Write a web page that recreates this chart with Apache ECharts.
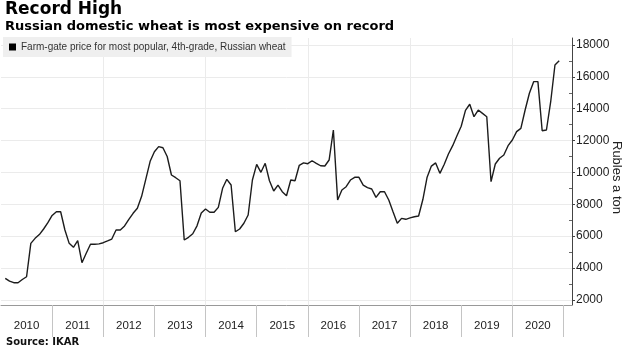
<!DOCTYPE html>
<html>
<head>
<meta charset="utf-8">
<script src="https://cdn.jsdelivr.net/npm/echarts@6/dist/echarts.min.js"></script>
<style>
  html, body { margin: 0; padding: 0; background: #fff; }
  #chart { width: 632px; height: 349px; }
</style>
</head>
<body>
<div id="chart"></div>
<script>
// Year labels along the bottom axis
const years = ['2010', '2011', '2012', '2013', '2014', '2015', '2016', '2017', '2018', '2019', '2020'];

// Monthly farm-gate price, rubles per ton, Jan 2010 .. Dec 2020
const prices = [
  null, 3355, 3180, 3080, 3080, 3280, 3455, 5550, 5865, 6100, 6450, 6850,
  7300, 7535, 7535, 6390, 5550, 5300, 5715, 4335, 4925, 5490, 5490, 5520,
  5590, 5700, 5820, 6390, 6390, 6640, 7050, 7435, 7750, 8500, 9600, 10700,
  11300, 11620, 11550, 11000, 9840, 9670, 9480, 5760, 5930, 6150, 6650, 7450,
  7705, 7500, 7500, 7810, 9005, 9570, 9210, 6280, 6450, 6810, 7330, 9525,
  10510, 10010, 10575, 9480, 8835, 9210, 8790, 8540, 9525, 9480, 10450, 10600,
  10550, 10735, 10575, 10420, 10405, 10780, 12665, 8270, 8900, 9105, 9525, 9695,
  9695, 9210, 9045, 8960, 8440, 8790, 8790, 8270, 7535, 6810, 7120, 7060,
  7150, 7220, 7265, 8300, 9700, 10400, 10600, 9945, 10500, 11160, 11680, 12300,
  12900, 13900, 14280, 13500, 13920, 13710, 13500, 9420, 10530, 10890, 11095, 11680,
  12035, 12560, 12770, 13920, 14970, 15700, 15700, 12620, 12665, 14440, 16745, 17015
];

// Value-axis tick labels and the minor ticks between them
const yTicks = [2000, 4000, 6000, 8000, 10000, 12000, 14000, 16000, 18000];
const yMinorTicks = [3000, 5000, 7000, 9000, 11000, 13000, 15000, 17000];

const seriesName = 'Farm-gate price for most popular, 4th-grade, Russian wheat';

// One category per month, plus a short run-out into 2021
const months = [];
years.forEach(y => {
  for (let m = 1; m <= 12; m++) months.push(y + '-' + String(m).padStart(2, '0'));
});
['2021-01', '2021-02', '2021-03'].forEach(m => months.push(m));

const labelFont = "'Liberation Sans', Arial, sans-serif";
const headFont = "'DejaVu Sans', sans-serif";

const chart = echarts.init(document.getElementById('chart'), null, { renderer: 'canvas' });

chart.setOption({
  animation: false,
  backgroundColor: '#fff',
  title: [
    {
      text: 'Record High', left: 5, top: 1, padding: 0,
      textStyle: { fontFamily: headFont, fontWeight: 'bold', fontSize: 17, color: '#000' }
    },
    {
      text: 'Russian domestic wheat is most expensive on record', left: 5, top: 20, padding: 0,
      textStyle: { fontFamily: headFont, fontWeight: 'bold', fontSize: 13, color: '#000' }
    },
    {
      text: 'Source: IKAR', left: 6, top: 337, padding: 0,
      textStyle: { fontFamily: headFont, fontWeight: 'bold', fontSize: 10, color: '#111' }
    }
  ],
  legend: {
    left: 3, top: 37,
    padding: [5, 6, 5, 6],
    backgroundColor: '#efefef',
    icon: 'rect', itemWidth: 7, itemHeight: 7,
    textStyle: { fontFamily: labelFont, fontSize: 10, color: '#333' },
    data: [seriesName]
  },
  grid: { left: 1, right: 60, top: 38, bottom: 44, containLabel: false, outerBoundsMode: 'none' },
  xAxis: {
    type: 'category',
    data: months,
    boundaryGap: false,
    axisLine: { show: true, lineStyle: { color: '#999', width: 1 } },
    axisTick: {
      show: true, length: 32,
      interval: (i) => i > 0 && i % 12 === 0,
      lineStyle: { color: '#c4c4c4' }
    },
    axisLabel: {
      interval: (i) => i % 12 === 6 && i < years.length * 12,
      formatter: (v) => v.slice(0, 4),
      margin: 15,
      fontFamily: labelFont, fontSize: 11.5, color: '#222'
    },
    splitLine: {
      show: true,
      interval: (i) => i > 0 && i % 24 === 0,
      lineStyle: { color: '#ebebeb' }
    }
  },
  yAxis: [
    {
      type: 'value', position: 'right',
      min: 1680, max: 18440,
      name: 'Rubles a ton', nameLocation: 'middle', nameRotate: -90, nameGap: 38,
      nameMoveOverlap: false,
      nameTextStyle: { fontFamily: labelFont, fontSize: 13, color: '#222', padding: [0, 0, 0, 12] },
      axisLine: { show: true, lineStyle: { color: '#444', width: 1 } },
      axisTick: { show: true, length: 3, customValues: yTicks, lineStyle: { color: '#444' } },
      axisLabel: {
        customValues: yTicks, margin: 4,
        formatter: (v) => String(v),
        fontFamily: labelFont, fontSize: 12, color: '#222'
      },
      splitLine: { show: true, lineStyle: { color: '#ebebeb' } }
    },
    {
      type: 'value', position: 'right',
      min: 1680, max: 18440,
      axisLine: { show: false },
      axisTick: { show: true, inside: true, length: 3, customValues: yMinorTicks, lineStyle: { color: '#666' } },
      axisLabel: { show: false },
      splitLine: { show: false }
    }
  ],
  series: [
    {
      name: seriesName,
      type: 'line',
      data: prices,
      yAxisIndex: 0,
      symbol: 'none',
      connectNulls: false,
      lineStyle: { color: '#1c1c1c', width: 1.4 },
      itemStyle: { color: '#000' }
    }
  ]
});
</script>
</body>
</html>
